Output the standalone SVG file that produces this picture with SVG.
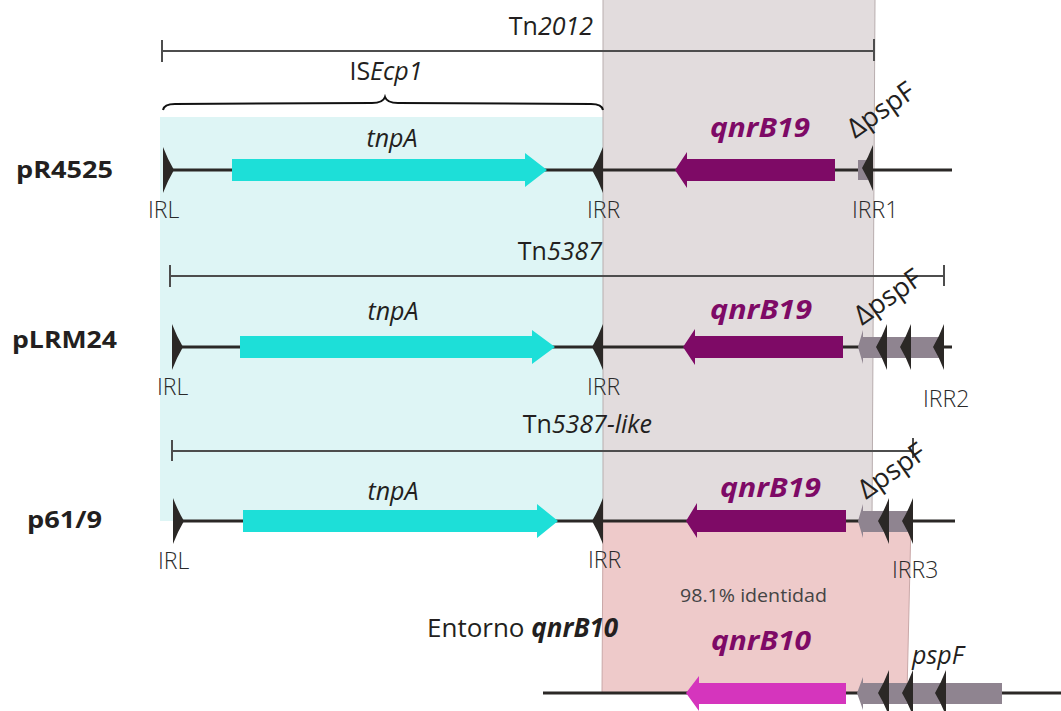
<svg xmlns="http://www.w3.org/2000/svg" width="1061" height="711" viewBox="0 0 1061 711">
<style>
text{font-family:"Open Sans","Liberation Sans",sans-serif;fill:#231f20}
.lbl{font-size:24px;font-weight:bold}
.ir{font-size:23px;font-weight:300;fill:#2a2a2a}
.tn{font-size:25px}
.it{font-style:italic}
.gene{font-size:25px;font-style:italic}
.qnr{font-size:27px;font-style:italic;font-weight:bold;fill:#7e0a66}
.psp{font-size:27px}
.bb{stroke:#2b2826;stroke-width:3;fill:none}
.tl{stroke:#4d4d4d;stroke-width:2;fill:none}
.tnpA{fill:#1ddfd8}
.q19{fill:#7e0a66}
.q10{fill:#d535bd}
.pg{fill:#8f8490}
.irm{fill:#2b2826}
</style>
<defs>
<path id="irR" d="M0,-23 Q5,-10 11,0 Q5,10 0,23 Z"/>
<path id="irL" d="M0,-23 Q-5,-10 -11,0 Q-5,10 0,23 Z"/>
</defs>
<rect width="1061" height="711" fill="#ffffff"/>
<g id="regions">
<rect x="160" y="117" width="443" height="404" fill="#def5f5"/>
<polygon points="603,0 875,0 872,522 603,522" fill="#e2dcdd"/>
<polygon points="603,522 911,522 907,693 602,693" fill="#eecaca"/>
<line x1="603" y1="0" x2="603" y2="522" stroke="#b8adae" stroke-width="1"/>
<line x1="875" y1="0" x2="872" y2="522" stroke="#b8adae" stroke-width="1"/>
<line x1="603" y1="522" x2="602" y2="693" stroke="#c9a8a8" stroke-width="1"/>
<line x1="911" y1="522" x2="907" y2="693" stroke="#c9a8a8" stroke-width="1"/>
</g>
<g id="connectors">
<line class="tl" x1="162" y1="51" x2="874" y2="51"/>
<line class="tl" x1="162" y1="40" x2="162" y2="62"/>
<line class="tl" x1="874" y1="39" x2="874" y2="61"/>
<path d="M163,110 Q164,104 175,104 L372,103 Q383,103 385,97 Q387,103 398,103 L591,104 Q602,104 603,110" stroke="#111" stroke-width="2" fill="none"/>
<line class="tl" x1="170" y1="276" x2="944" y2="276"/>
<line class="tl" x1="170" y1="265" x2="170" y2="287"/>
<line class="tl" x1="944" y1="265" x2="944" y2="286"/>
<line class="tl" x1="172" y1="451" x2="913" y2="451"/>
<line class="tl" x1="172" y1="440" x2="172" y2="461"/>
<line class="tl" x1="913" y1="438" x2="913" y2="458"/>
<line class="bb" x1="163" y1="170" x2="952" y2="170"/>
<line class="bb" x1="172" y1="347" x2="952" y2="347"/>
<line class="bb" x1="173" y1="521" x2="955" y2="521"/>
<line class="bb" x1="543" y1="693" x2="1061" y2="693"/>
</g>
<g id="titles">
<text class="tn" x="593" y="35" text-anchor="end">Tn<tspan class="it">2012</tspan></text>
<text class="tn" x="386" y="80" text-anchor="middle">IS<tspan class="it">Ecp1</tspan></text>
<text class="tn" x="602" y="260" text-anchor="end">Tn<tspan class="it">5387</tspan></text>
<text class="tn" x="652" y="433" text-anchor="end">Tn<tspan class="it">5387-like</tspan></text>
</g>
<g id="row-pR4525">
<text class="lbl" x="16" y="178" textLength="97" lengthAdjust="spacingAndGlyphs">pR4525</text>
<use href="#irR" x="163" y="170" class="irm"/>
<use href="#irL" x="603" y="170" class="irm"/>
<path class="tnpA" d="M232,159 L525,159 L525,153 L547,170 L525,187 L525,181 L232,181 Z"/>
<text class="gene" x="392" y="147" text-anchor="middle">tnpA</text>
<path class="q19" d="M835,159 L687,159 L687,152 L675,170 L687,188 L687,181 L835,181 Z"/>
<text class="qnr" x="710" y="137" textLength="100" lengthAdjust="spacingAndGlyphs">qnrB19</text>
<rect class="pg" x="858" y="160" width="10" height="20"/>
<use href="#irL" x="873" y="168" class="irm"/>
<text class="psp" x="855" y="139" transform="rotate(-35 855 139)">ΔpspF</text>
<text class="ir" x="148" y="218">IRL</text>
<text class="ir" x="587" y="218">IRR</text>
<text class="ir" x="852" y="218">IRR1</text>
</g>
<g id="row-pLRM24">
<text class="lbl" x="12" y="348" textLength="105" lengthAdjust="spacingAndGlyphs">pLRM24</text>
<use href="#irR" x="172" y="347" class="irm"/>
<use href="#irL" x="603" y="347" class="irm"/>
<path class="tnpA" d="M240,336 L532,336 L532,330 L555,347 L532,364 L532,358 L240,358 Z"/>
<text class="gene" x="393" y="320" text-anchor="middle">tnpA</text>
<path class="q19" d="M843,336 L695,336 L695,329 L683,347 L695,365 L695,358 L843,358 Z"/>
<text class="qnr" x="710" y="319" textLength="102" lengthAdjust="spacingAndGlyphs">qnrB19</text>
<path class="pg" d="M942,337 L863,337 L863,330 L858,347 L863,364 L863,358 L942,358 Z"/>
<use href="#irL" x="887" y="347" class="irm"/>
<use href="#irL" x="911" y="347" class="irm"/>
<use href="#irL" x="944" y="347" class="irm"/>
<text class="psp" x="862" y="326" transform="rotate(-35 862 326)">ΔpspF</text>
<text class="ir" x="157" y="395">IRL</text>
<text class="ir" x="587" y="395">IRR</text>
<text class="ir" x="923" y="407">IRR2</text>
</g>
<g id="row-p61-9">
<text class="lbl" x="27" y="528" textLength="75" lengthAdjust="spacingAndGlyphs">p61/9</text>
<use href="#irR" x="173" y="521" class="irm"/>
<use href="#irL" x="603" y="521" class="irm"/>
<path class="tnpA" d="M243,510 L537,510 L537,504 L558,521 L537,538 L537,532 L243,532 Z"/>
<text class="gene" x="393" y="500" text-anchor="middle">tnpA</text>
<path class="q19" d="M846,510 L697,510 L697,503 L686,521 L697,538 L697,532 L846,532 Z"/>
<text class="qnr" x="720" y="497" textLength="101" lengthAdjust="spacingAndGlyphs">qnrB19</text>
<path class="pg" d="M913,511 L863,511 L863,504 L858,521 L863,538 L863,532 L913,532 Z"/>
<use href="#irL" x="889" y="521" class="irm"/>
<use href="#irL" x="913" y="521" class="irm"/>
<text class="psp" x="866" y="500" transform="rotate(-35 866 500)">ΔpspF</text>
<text class="ir" x="158" y="569">IRL</text>
<text class="ir" x="588" y="568">IRR</text>
<text class="ir" x="892" y="578">IRR3</text>
</g>
<g id="row-qnrB10">
<text x="680" y="602" textLength="147" lengthAdjust="spacingAndGlyphs" style="font-size:19px;fill:#444">98.1% identidad</text>
<text x="427" y="637" style="font-size:26px">Entorno <tspan style="font-style:italic;font-weight:bold">qnrB10</tspan></text>
<path class="q10" d="M846,683 L699,683 L699,676 L686,693 L699,711 L699,704 L846,704 Z"/>
<text class="qnr" x="711" y="650" textLength="100" lengthAdjust="spacingAndGlyphs">qnrB10</text>
<path class="pg" d="M1002,683 L863,683 L863,677 L857,693 L863,710 L863,704 L1002,704 Z"/>
<use href="#irL" x="889" y="693" class="irm"/>
<use href="#irL" x="913" y="693" class="irm"/>
<use href="#irL" x="946" y="693" class="irm"/>
<text class="gene" x="912" y="664">pspF</text>
</g>
</svg>
